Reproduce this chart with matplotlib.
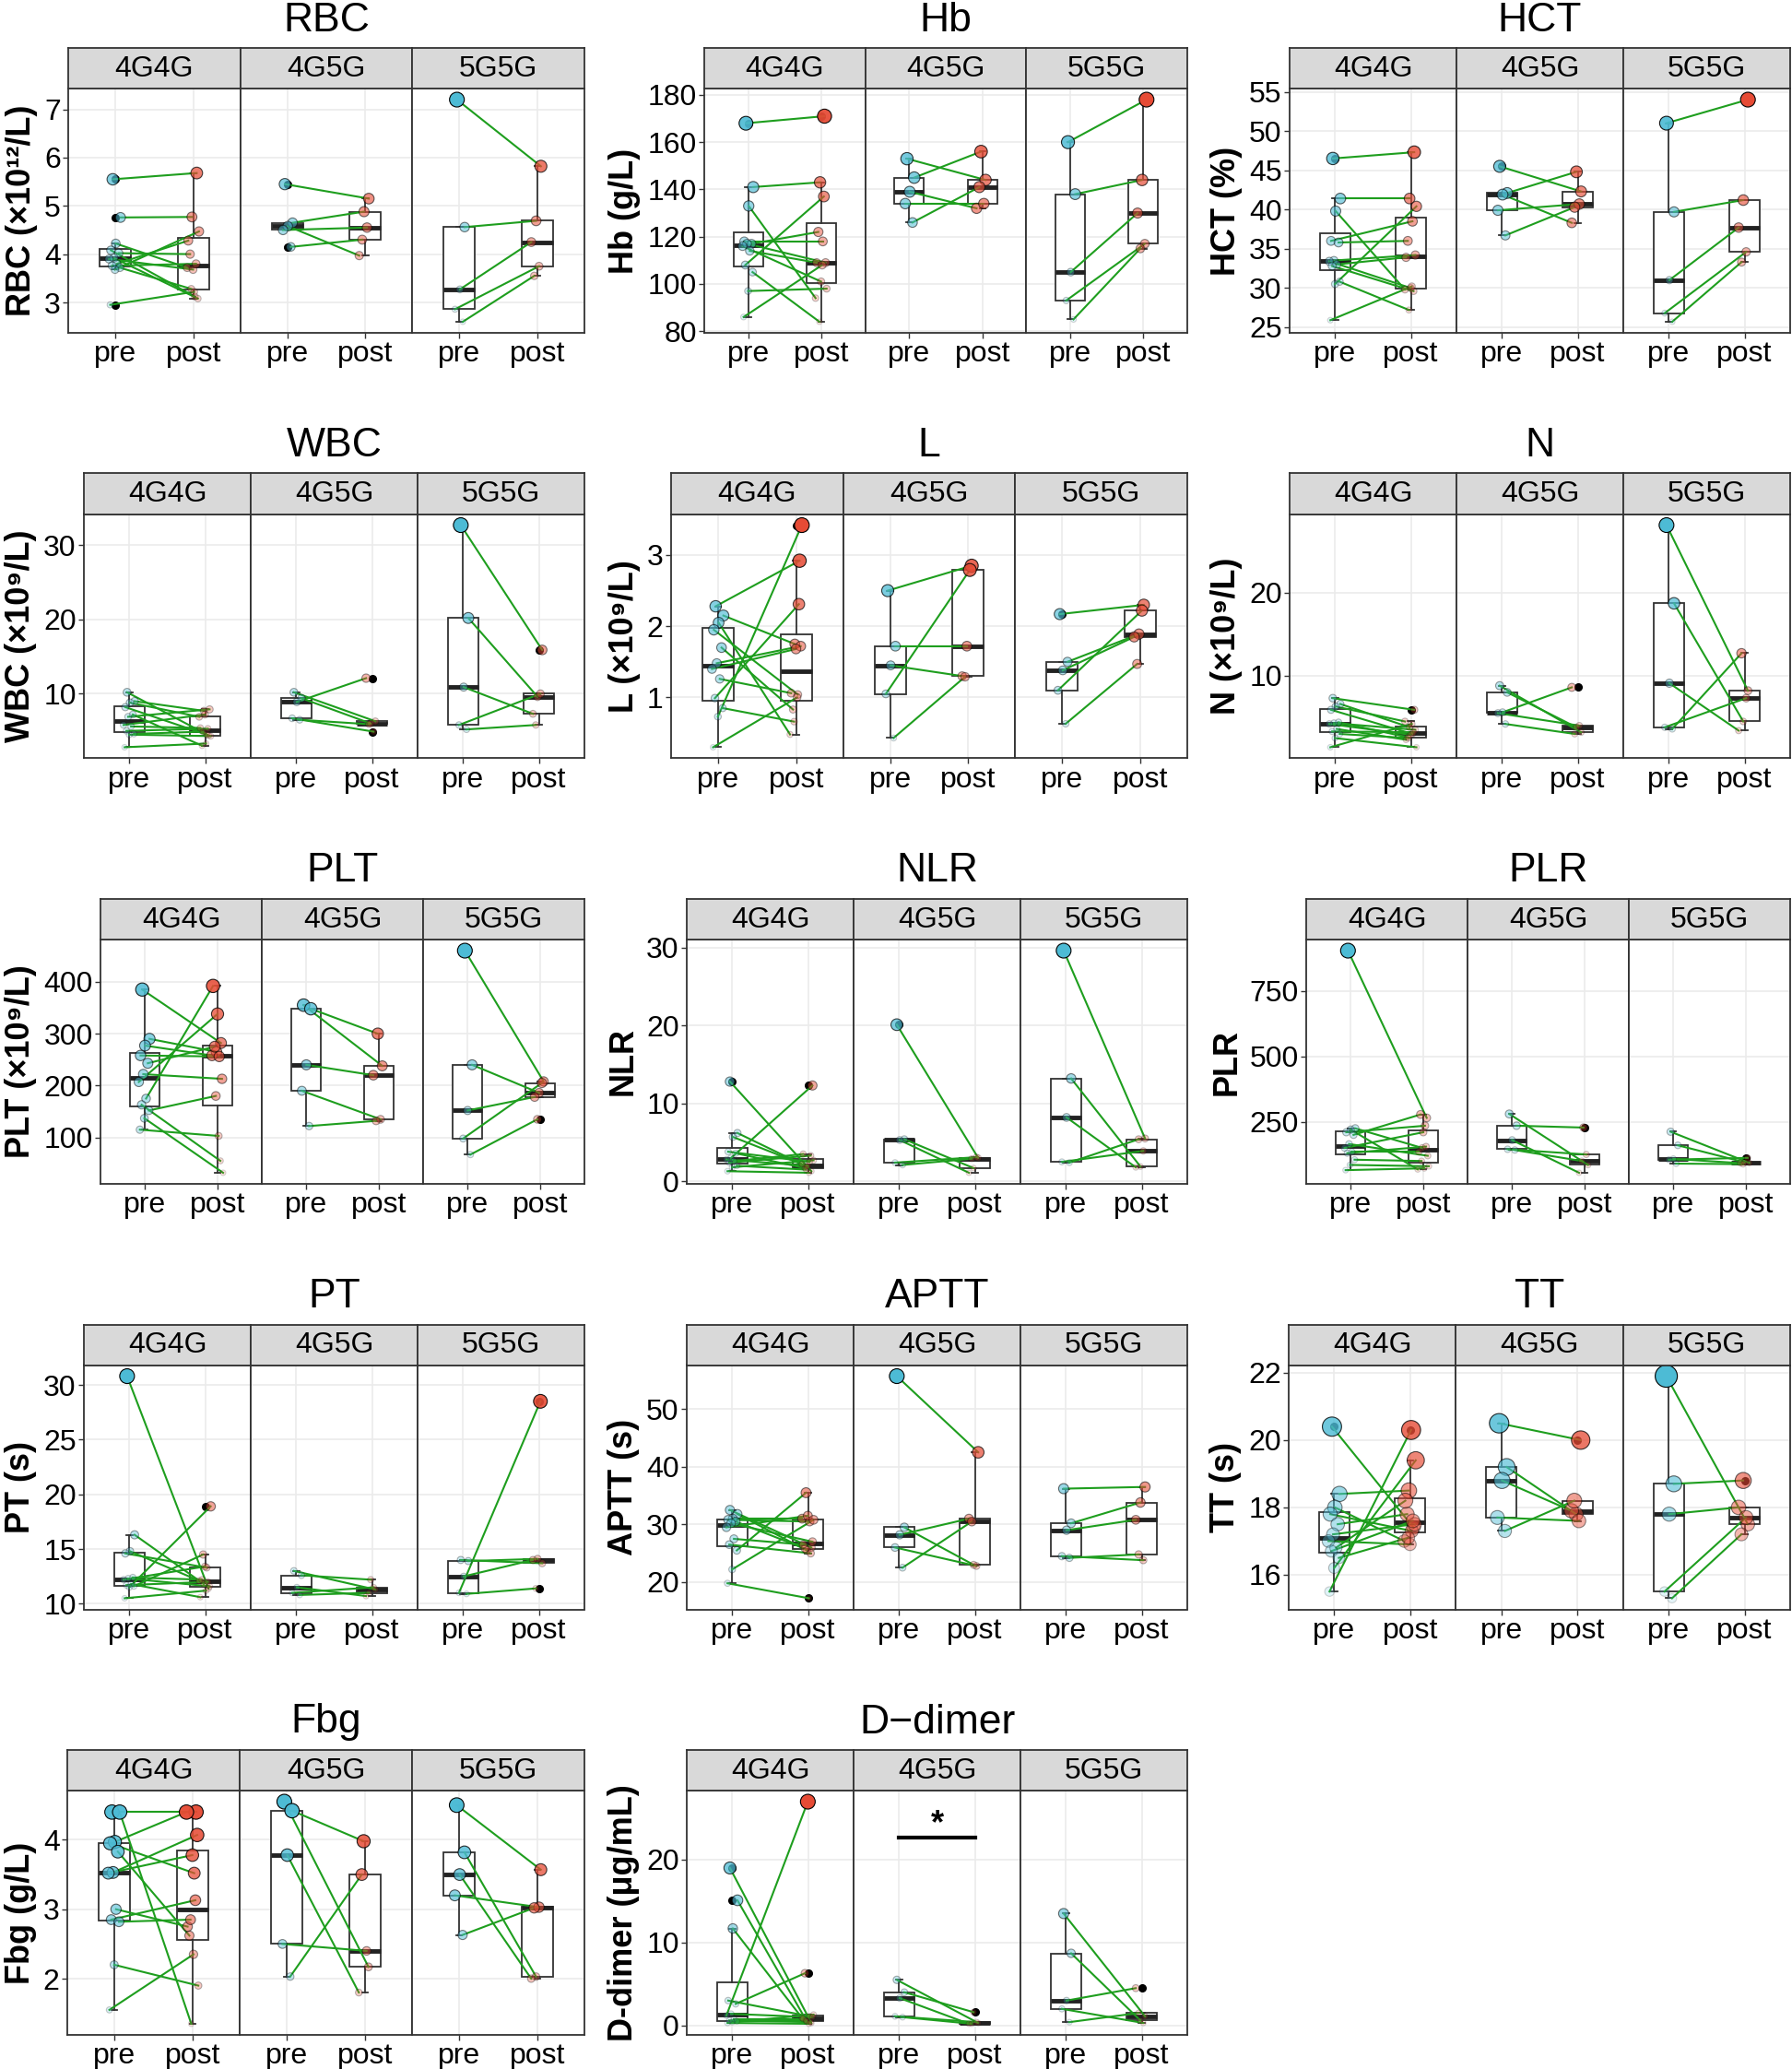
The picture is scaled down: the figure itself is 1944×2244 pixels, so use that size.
import numpy as np
import matplotlib.pyplot as plt

plt.rcParams['font.family'] = ['Liberation Sans', 'DejaVu Sans']

genotypes = ['4G4G', '4G5G', '5G5G']
phases = ['pre', 'post']

# values per genotype (4G4G, 4G5G, 5G5G); pre[i] and post[i] are the same patient
rbc_pre = [[5.55, 4.76, 4.22, 4.08, 4.02, 3.92, 3.90, 3.80, 3.76, 3.72, 3.68, 2.95],
           [5.45, 4.65, 4.58, 4.50, 4.15], [7.20, 4.56, 3.27, 2.86, 2.60]]
rbc_post = [[5.68, 4.77, 3.72, 3.12, 4.00, 3.08, 3.68, 4.28, 3.80, 3.28, 4.47, 3.22],
            [5.15, 4.88, 3.97, 4.55, 4.30], [5.82, 4.69, 4.25, 3.75, 3.55]]

hb_pre = [[168, 141, 133, 118, 117, 117, 116, 114, 108, 105, 97, 86],
          [153, 145, 139, 134, 126], [160, 138, 105, 93, 85]]
hb_post = [[171, 143, 94, 118, 122, 109, 101, 109, 137, 84, 98, 108],
           [144, 156, 132, 134, 141], [178, 144, 130, 117, 115]]

hct_pre = [[46.5, 41.4, 39.8, 36.0, 35.8, 33.5, 33.4, 33.0, 32.8, 30.8, 30.5, 25.9],
           [45.5, 42.1, 41.9, 39.9, 36.7], [51.0, 39.7, 31.0, 26.8, 25.7]]
hct_post = [[47.3, 41.4, 29.8, 38.5, 36.0, 34.2, 30.0, 33.9, 29.6, 27.2, 40.4, 30.2],
            [42.3, 44.8, 38.3, 40.7, 40.3], [54.0, 41.2, 37.7, 34.6, 33.3]]

wbc_pre = [[10.2, 9.0, 8.8, 8.2, 7.2, 6.9, 5.8, 5.6, 5.0, 4.6, 4.5, 2.8],
           [10.2, 9.4, 8.9, 6.7, 6.5], [32.7, 20.2, 10.9, 5.8, 5.2]]
wbc_post = [[4.4, 7.7, 6.9, 4.5, 3.0, 7.9, 7.2, 5.4, 5.3, 4.9, 4.3, 3.3],
            [6.3, 6.0, 12.1, 4.9, 5.9], [15.9, 9.6, 7.3, 10.0, 5.8]]

l_pre = [[2.28, 2.15, 2.05, 1.95, 1.70, 1.48, 1.40, 1.26, 0.99, 0.85, 0.73, 0.30],
         [2.50, 1.72, 1.45, 1.05, 0.43], [2.17, 1.50, 1.38, 1.10, 0.63]]
l_post = [[2.92, 1.75, 0.48, 1.04, 0.83, 1.72, 1.68, 1.06, 2.31, 0.66, 3.42, 1.00],
          [2.85, 1.72, 1.30, 2.79, 1.29], [2.30, 1.89, 1.85, 2.22, 1.47]]

n_pre = [[7.3, 6.6, 6.3, 5.9, 4.4, 4.3, 4.2, 3.6, 3.3, 3.0, 2.5, 1.4],
         [8.8, 8.0, 5.6, 5.5, 4.2], [28.1, 18.7, 9.1, 3.8, 3.6]]
n_post = [[5.9, 3.8, 4.5, 3.0, 2.6, 3.5, 2.9, 2.3, 3.2, 2.5, 1.4, 4.2],
          [3.2, 3.8, 8.6, 4.0, 3.0], [8.2, 4.5, 3.4, 7.3, 12.7]]

platelet_pre = [[385, 290, 277, 258, 243, 222, 207, 175, 163, 152, 137, 115],
                [355, 348, 240, 190, 122], [460, 240, 152, 98, 67]]
platelet_post = [[282, 265, 258, 256, 275, 213, 338, 392, 55, 180, 32, 103],
                 [238, 300, 220, 135, 132], [208, 186, 178, 205, 135]]

nlr_pre = [[12.8, 6.2, 5.7, 3.8, 3.6, 3.0, 2.8, 2.6, 2.4, 2.0, 1.8, 1.3],
           [20.1, 5.4, 5.3, 2.4, 2.1], [29.6, 13.2, 8.2, 2.5, 2.4]]
nlr_post = [[1.3, 1.9, 2.2, 2.5, 1.7, 12.3, 2.0, 3.5, 3.3, 1.5, 2.7, 1.1],
            [3.0, 1.7, 1.1, 3.1, 2.9], [5.5, 1.9, 1.8, 3.9, 5.4]]

plr_pre = [[905, 225, 220, 210, 200, 165, 150, 135, 130, 105, 85, 65],
           [280, 235, 180, 145, 142], [212, 160, 108, 105, 90]]
plr_post = [[265, 150, 68, 235, 278, 120, 210, 135, 155, 100, 80, 72],
            [85, 228, 55, 125, 100], [93, 95, 92, 112, 88]]

pt_pre = [[30.8, 16.3, 14.8, 14.6, 12.4, 12.3, 12.2, 11.8, 11.7, 11.6, 11.5, 10.5],
          [13.0, 12.6, 11.5, 11.0, 10.8], [14.0, 13.9, 12.5, 11.0, 10.9]]
pt_post = [[11.4, 11.8, 12.1, 13.3, 12.2, 11.6, 13.4, 10.6, 12.0, 14.5, 18.9, 11.2],
           [11.3, 12.2, 10.7, 11.5, 11.0], [13.7, 14.1, 14.0, 28.5, 11.4]]

aptt_pre = [[32.5, 31.8, 31.0, 30.8, 30.5, 30.2, 29.5, 27.5, 26.5, 25.5, 22.2, 19.8],
            [55.7, 29.5, 28.2, 26.0, 22.5], [36.2, 30.2, 29.0, 24.5, 24.2]]
aptt_post = [[26.0, 25.5, 31.0, 30.5, 25.8, 27.0, 31.5, 26.5, 25.0, 35.5, 30.8, 17.2],
             [42.5, 23.0, 31.0, 22.8, 30.5], [36.5, 33.8, 30.8, 23.8, 24.8]]

tt_pre = [[20.4, 18.4, 18.0, 17.8, 17.5, 17.2, 17.0, 16.8, 16.7, 16.5, 16.2, 15.5],
          [20.5, 19.2, 18.8, 17.7, 17.3], [21.9, 18.7, 17.8, 15.5, 15.3]]
tt_post = [[17.4, 18.5, 17.0, 17.3, 17.8, 17.5, 16.9, 18.2, 17.6, 17.1, 19.4, 20.3],
           [20.0, 17.8, 17.9, 17.6, 18.2], [17.5, 18.8, 18.0, 17.7, 17.2]]

fbg_pre = [[4.4, 4.4, 3.97, 3.95, 3.83, 3.53, 3.52, 3.0, 2.85, 2.82, 2.2, 1.55],
           [4.55, 4.42, 3.78, 2.5, 2.03], [4.5, 3.82, 3.5, 3.2, 2.63]]
fbg_post = [[4.4, 1.35, 4.4, 3.52, 2.62, 4.07, 3.78, 2.75, 3.13, 2.85, 1.9, 2.35],
            [2.17, 3.98, 1.8, 2.4, 3.5], [3.57, 2.03, 2.0, 3.03, 3.02]]

ddimer_pre = [[19.0, 15.1, 11.7, 3.0, 2.6, 1.4, 1.2, 0.8, 0.6, 0.5, 0.4, 0.3],
              [5.5, 4.0, 3.3, 1.1, 1.0], [13.5, 8.7, 3.0, 2.0, 0.4]]
ddimer_post = [[0.3, 0.5, 0.9, 1.1, 6.3, 1.0, 27.0, 0.8, 0.4, 0.6, 1.3, 0.2],
               [0.3, 1.6, 0.2, 0.4, 0.2], [1.1, 0.6, 4.5, 0.3, 1.5]]

panels = [
    ('RBC', 'RBC (×10¹²/L)', rbc_pre, rbc_post, [3, 4, 5, 6, 7]),
    ('Hb', 'Hb (g/L)', hb_pre, hb_post, [80, 100, 120, 140, 160, 180]),
    ('HCT', 'HCT (%)', hct_pre, hct_post, [25, 30, 35, 40, 45, 50, 55]),
    ('WBC', 'WBC (×10⁹/L)', wbc_pre, wbc_post, [10, 20, 30]),
    ('L', 'L (×10⁹/L)', l_pre, l_post, [1, 2, 3]),
    ('N', 'N (×10⁹/L)', n_pre, n_post, [10, 20]),
    ('PLT', 'PLT (×10⁹/L)', platelet_pre, platelet_post, [100, 200, 300, 400]),
    ('NLR', 'NLR', nlr_pre, nlr_post, [0, 10, 20, 30]),
    ('PLR', 'PLR', plr_pre, plr_post, [250, 500, 750]),
    ('PT', 'PT (s)', pt_pre, pt_post, [10, 15, 20, 25, 30]),
    ('APTT', 'APTT (s)', aptt_pre, aptt_post, [20, 30, 40, 50]),
    ('TT', 'TT (s)', tt_pre, tt_post, [16, 18, 20, 22]),
    ('Fbg', 'Fbg (g/L)', fbg_pre, fbg_post, [2, 3, 4]),
    ('D−dimer', 'D-dimer (μg/mL)', ddimer_pre, ddimer_post, [0, 10, 20]),
]
# significance mark: panel title, genotype index, bar height
sig_marks = {('D−dimer', 1): 22.7}

# layout in pixels
W, H = 1944, 2244
lefts = [[74, 764, 1399], [91, 728, 1399], [109, 745, 1417], [91, 745, 1398], [73, 745]]
rights = [634, 1288, 1942]
point_size = {'TT': (10, 24)}   # diameter range in px
default_size = (6, 16)
col_pre, col_post = '#4DBBD5', '#E64B35'
line_col = '#1E9E1E'
edge = '#333333'

fig = plt.figure(figsize=(W / 100, H / 100), dpi=100)


def rect(l, t, r, b):
    return [l / W, 1 - b / H, (r - l) / W, (b - t) / H]


def rgba(hex_col, a):
    c = np.array([int(hex_col[i:i + 2], 16) / 255 for i in (1, 3, 5)])
    return np.column_stack([np.tile(c, (len(a), 1)), a])


for idx, (title, ylab, pre, post, ticks) in enumerate(panels):
    row, col = divmod(idx, 3)
    left, right = lefts[row][col], rights[col]
    strip_top = 52 + 461.5 * row
    top, bottom = strip_top + 44, strip_top + 309
    allv = np.concatenate([np.r_[a, b] for a, b in zip(pre, post)])
    vmin, vmax = allv.min(), allv.max()
    pad = 0.05 * (vmax - vmin)
    smin, smax = point_size.get(title, default_size)
    fw = (right - left) / 3

    fig.text((left + right) / 2 / W, 1 - (strip_top - 30) / H, title,
             ha='center', va='center', fontsize=32)

    for g in range(3):
        x0 = left + g * fw
        ax = fig.add_axes(rect(x0, top, x0 + fw, bottom))
        sax = fig.add_axes(rect(x0, strip_top, x0 + fw, top))
        sax.set_facecolor('#D9D9D9')
        sax.set_xticks([])
        sax.set_yticks([])
        for s in sax.spines.values():
            s.set_color(edge)
            s.set_linewidth(1.3)
        sax.text(0.5, 0.48, genotypes[g], ha='center', va='center', fontsize=23,
                 transform=sax.transAxes)

        p0 = np.array(pre[g], float)
        p1 = np.array(post[g], float)
        n = len(p0)
        k = np.arange(n)
        xa = 1 + ((k * 0.618 + 0.31) % 1 - 0.5) * 0.16
        xb = 2 + ((k * 0.618 + 0.77) % 1 - 0.5) * 0.16

        ax.boxplot([p0, p1], positions=[1, 2], widths=0.4, patch_artist=True,
                   boxprops=dict(facecolor='white', edgecolor=edge, linewidth=1.3),
                   medianprops=dict(color='#222222', linewidth=3.5),
                   whiskerprops=dict(color=edge, linewidth=1.3),
                   capprops=dict(color=edge, linewidth=1.3), capwidths=0.08,
                   flierprops=dict(marker='o', markerfacecolor='black',
                                   markeredgecolor='black', markersize=5.5),
                   zorder=2)
        for i in range(n):
            ax.plot([xa[i], xb[i]], [p0[i], p1[i]], color=line_col, lw=1.5, zorder=3)
        for xs, vals, c in ((xa, p0, col_pre), (xb, p1, col_post)):
            t = (vals - vmin) / (vmax - vmin)
            alpha = 0.15 + 0.85 * t
            d = (smin + (smax - smin) * t) * 0.72
            ax.scatter(xs, vals, s=d ** 2, facecolors=rgba(c, alpha),
                       edgecolors=rgba('#000000', alpha), linewidths=0.8, zorder=4)

        key = (title, g)
        if key in sig_marks:
            yb = sig_marks[key]
            ax.plot([1, 2], [yb, yb], color='black', lw=3, zorder=5)
            ax.annotate('*', xy=(1.5, yb), xytext=(0, 3), textcoords='offset points',
                        ha='center', va='baseline', fontsize=26, fontweight='bold')

        ax.set_xlim(0.4, 2.6)
        ax.set_ylim(vmin - pad, vmax + pad)
        ax.set_xticks([1, 2])
        ax.set_xticklabels(phases)
        ax.set_yticks(ticks)
        ax.grid(color='#EBEBEB', lw=1.2)
        ax.set_axisbelow(True)
        ax.tick_params(labelsize=23, length=4, width=1, color=edge, pad=2)
        for s in ax.spines.values():
            s.set_color(edge)
            s.set_linewidth(1.3)
        if g == 0:
            ax.set_ylabel(ylab, fontsize=26, fontweight='bold', labelpad=5)
        else:
            ax.tick_params(axis='y', length=0, labelleft=False)

fig.savefig('out.png', dpi=100)
